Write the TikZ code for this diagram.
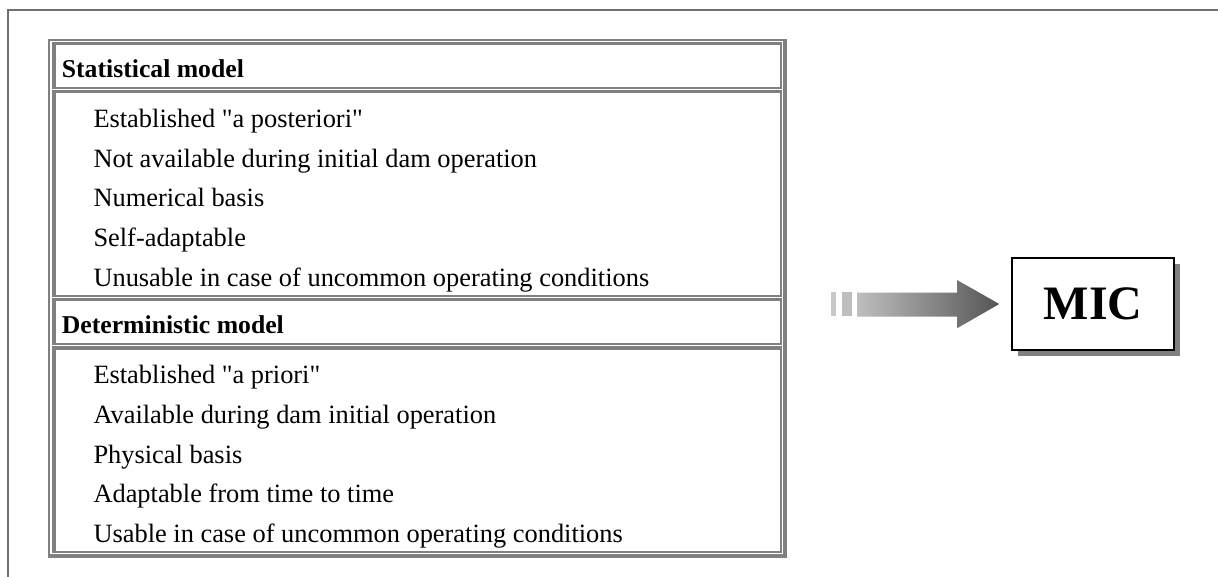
\documentclass[tikz,border=0pt]{standalone}
\usepackage{fontspec}
\setmainfont{Liberation Serif}
\usetikzlibrary{shadows}
\definecolor{framegray}{HTML}{707070}
\definecolor{tabgray}{HTML}{808080}
\definecolor{shgray}{HTML}{808080}
\definecolor{arrowlight}{HTML}{C8C8C8}
\definecolor{arrowdark}{HTML}{555555}
\tikzset{
  head/.style={anchor=base west, inner sep=0pt, font=\fontsize{25.7}{30}\selectfont\bfseries},
  item/.style={anchor=base west, inner sep=0pt, font=\fontsize{26.4}{30}\selectfont},
  micbox/.style={draw=black, line width=1.2pt, fill=white, minimum width=162pt, minimum height=92pt, inner sep=0pt,
    font=\fontsize{48}{56}\selectfont\bfseries,
    drop shadow={shadow xshift=6pt, shadow yshift=-6pt, fill=shgray, opacity=1}},
}
\newcommand{\tabcell}[2]{%
  \fill[tabgray] (52,#1) rectangle (782,#2);
  \fill[white] (55.5,#1+3.5) rectangle (780,#2-2);
}
\begin{document}
\begin{tikzpicture}[x=1pt,y=-1pt]
\useasboundingbox (0,0) rectangle (1218,577);
\fill[white] (0,0) rectangle (1218,577);
% outer frame
\draw[framegray, line width=1.3pt] (8,577) -- (8,10) -- (1218,10);
% table border
\fill[tabgray] (48,39) rectangle (787,558);
\fill[white] (50,41) rectangle (783,554);
\tabcell{42}{89}
\tabcell{90}{297}
\tabcell{298}{345}
\tabcell{346}{553}
% texts
\node[head] (h1) at (61.7,77.7) {Statistical model};
\node[item] (s1) at (93.3,127.5) {Established \textquotedbl a posteriori\textquotedbl};
\node[item] (s2) at (93.3,167.2) {Not available during initial dam operation};
\node[item] (s3) at (93.3,207.0) {Numerical basis};
\node[item] (s4) at (93.3,246.7) {Self-adaptable};
\node[item] (s5) at (93.3,286.5) {Unusable in case of uncommon operating conditions};
\node[head] (h2) at (61.7,333.7) {Deterministic model};
\node[item] (d1) at (93.3,383.5) {Established \textquotedbl a priori\textquotedbl};
\node[item] (d2) at (93.3,423.2) {Available during dam initial operation};
\node[item] (d3) at (93.3,463.0) {Physical basis};
\node[item] (d4) at (93.3,502.7) {Adaptable from time to time};
\node[item] (d5) at (93.3,542.5) {Usable in case of uncommon operating conditions};
% arrow
\fill[arrowlight] (831,292.5) rectangle (836,316.5);
\fill[arrowlight!95!black] (842,292.5) rectangle (852,316.5);
\shade[left color=arrowlight!95!black, right color=arrowdark]
  (857,292.7) -- (957,292.7) -- (957,280) -- (999.3,304) -- (957,328.3) -- (957,316.7) -- (857,316.7) -- cycle;
% MIC box
\node[micbox] (mic) at (1093,304) {MIC};
\end{tikzpicture}
\end{document}
